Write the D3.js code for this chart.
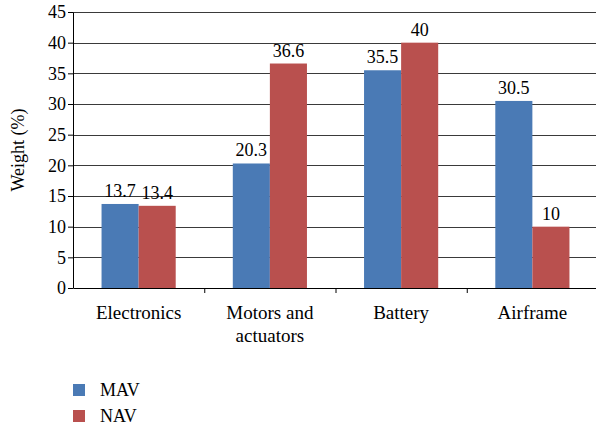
<!DOCTYPE html>
<html>
<head>
<meta charset="utf-8">
<script src="https://cdn.jsdelivr.net/npm/d3@7"></script>
<style>
  body { margin: 0; background: #fff; }
</style>
</head>
<body>
<div id="chart"></div>
<script>
// Data
const categories = ["Electronics", "Motors and\nactuators", "Battery", "Airframe"];
const seriesNames = ["MAV", "NAV"];
const mavValues = [13.7, 20.3, 35.5, 30.5];
const navValues = [13.4, 36.6, 40, 10];
const yTicks = [0, 5, 10, 15, 20, 25, 30, 35, 40, 45];

const COLORS = {MAV: "#4a7ab5", NAV: "#b9504e"};
const FONT = "Liberation Serif";

const FRAME_WIDTH = 596;
const FRAME_HEIGHT = 429;
const MARGINS = {left: 73, right: -2, top: 12, bottom: 141};

const VIS_WIDTH = FRAME_WIDTH - MARGINS.left - MARGINS.right;
const VIS_HEIGHT = FRAME_HEIGHT - MARGINS.top - MARGINS.bottom;

const svg = d3.select("#chart")
  .append("svg")
    .attr("width", FRAME_WIDTH)
    .attr("height", FRAME_HEIGHT);

const g = svg.append("g")
  .attr("transform", `translate(${MARGINS.left},${MARGINS.top})`);

const x0 = d3.scaleBand()
  .domain(categories)
  .range([0, VIS_WIDTH])
  .paddingInner(0)
  .paddingOuter(0);

const x1 = d3.scaleBand()
  .domain(seriesNames)
  .range([0, x0.bandwidth()])
  .paddingOuter(0.77)
  .paddingInner(0);

const y = d3.scaleLinear()
  .domain([0, 45])
  .range([VIS_HEIGHT, 0]);

// gridlines
g.selectAll("line.grid")
  .data(yTicks.filter(d => d > 0))
  .enter()
  .append("line")
    .attr("class", "grid")
    .attr("x1", 0)
    .attr("x2", VIS_WIDTH)
    .attr("y1", d => Math.round(y(d)) + 0.5)
    .attr("y2", d => Math.round(y(d)) + 0.5)
    .attr("stroke", "#3a3a3a")
    .attr("stroke-width", 1);

// bars
const rows = categories.map((c, i) => ({cat: c, vals: [
  {name: "MAV", value: mavValues[i]},
  {name: "NAV", value: navValues[i]}
]}));

const groups = g.selectAll("g.cat")
  .data(rows)
  .enter()
  .append("g")
    .attr("class", "cat")
    .attr("transform", d => `translate(${x0(d.cat)},0)`);

groups.selectAll("rect")
  .data(d => d.vals)
  .enter()
  .append("rect")
    .attr("x", d => x1(d.name))
    .attr("y", d => y(d.value))
    .attr("width", x1.bandwidth())
    .attr("height", d => VIS_HEIGHT - y(d.value))
    .attr("fill", d => COLORS[d.name]);

groups.selectAll("text.val")
  .data(d => d.vals)
  .enter()
  .append("text")
    .attr("class", "val")
    .attr("x", d => x1(d.name) + x1.bandwidth() / 2)
    .attr("y", d => y(d.value) - 7)
    .attr("text-anchor", "middle")
    .attr("font-family", FONT)
    .attr("font-size", 18)
    .text(d => d.value);

// y axis
const yAxis = g.append("g")
  .call(d3.axisLeft(y).tickValues(yTicks).tickSize(5).tickSizeOuter(0))
  .attr("font-family", FONT)
  .attr("font-size", 18);
yAxis.select(".domain").attr("stroke", "#000");
yAxis.selectAll(".tick line").attr("stroke", "#000");
yAxis.selectAll(".tick text")
  .attr("x", -7)
  .attr("fill", "#000");

// x axis
const xAxis = g.append("g")
  .attr("transform", `translate(0,${VIS_HEIGHT})`)
  .call(d3.axisBottom(x0).tickSize(0).tickSizeOuter(0))
  .attr("font-family", FONT)
  .attr("font-size", 19);
xAxis.select(".domain").attr("stroke", "#000");
xAxis.selectAll(".tick text").remove();

// ticks between categories
xAxis.selectAll("line.sep")
  .data(categories.slice(1))
  .enter()
  .append("line")
    .attr("class", "sep")
    .attr("x1", d => x0(d) + 0.5)
    .attr("x2", d => x0(d) + 0.5)
    .attr("y1", 0)
    .attr("y2", 5)
    .attr("stroke", "#000");

// category labels, can be two lines
xAxis.selectAll("text.cat")
  .data(categories)
  .enter()
  .append("text")
    .attr("class", "cat")
    .attr("text-anchor", "middle")
    .attr("fill", "#000")
    .attr("transform", d => `translate(${x0(d) + x0.bandwidth() / 2},31)`)
    .selectAll("tspan")
    .data(d => d.split("\n"))
    .enter()
    .append("tspan")
      .attr("x", 0)
      .attr("dy", (d, i) => i === 0 ? 0 : 23)
      .text(d => d);

// y axis title
svg.append("text")
  .attr("transform", `translate(24,${MARGINS.top + VIS_HEIGHT / 2}) rotate(-90)`)
  .attr("text-anchor", "middle")
  .attr("font-family", FONT)
  .attr("font-size", 18)
  .text("Weight (%)");

// legend
const legend = svg.append("g")
  .attr("transform", "translate(73,384)");

legend.selectAll("rect")
  .data(seriesNames)
  .enter()
  .append("rect")
    .attr("x", 0)
    .attr("y", (d, i) => i * 26)
    .attr("width", 12)
    .attr("height", 12)
    .attr("fill", d => COLORS[d]);

legend.selectAll("text")
  .data(seriesNames)
  .enter()
  .append("text")
    .attr("x", 27)
    .attr("y", (d, i) => i * 26 + 12)
    .attr("font-family", FONT)
    .attr("font-size", 18)
    .text(d => d);
</script>
</body>
</html>
